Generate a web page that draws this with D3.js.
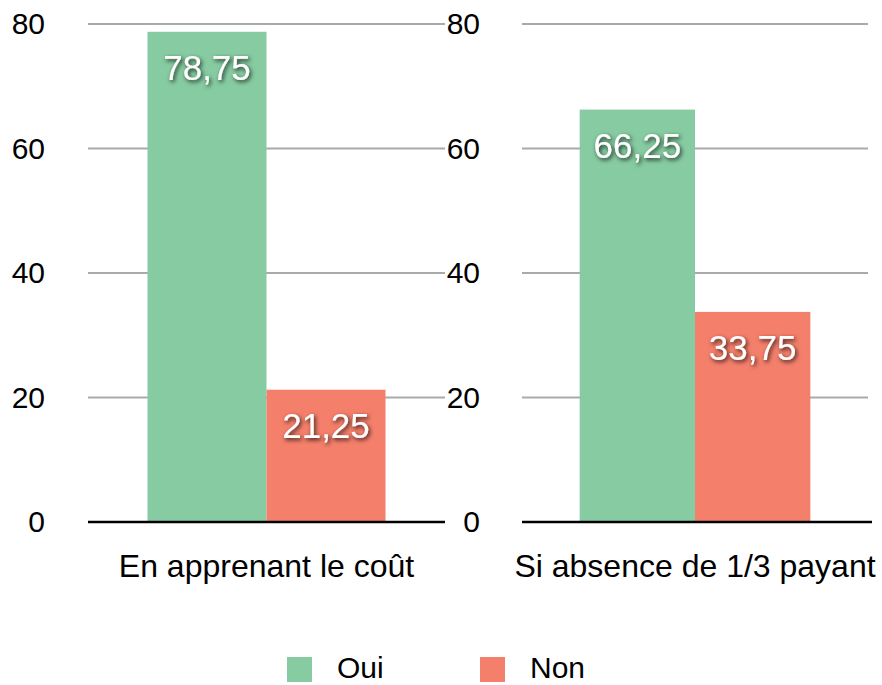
<!DOCTYPE html>
<html>
<head>
<meta charset="utf-8">
<script src="https://cdn.jsdelivr.net/npm/d3@7"></script>
<style>
  body { margin: 0; background: #fff; }
  svg text { font-family: "Liberation Sans", Arial, Helvetica, sans-serif; }
</style>
</head>
<body>
<svg id="chart" width="882" height="685"></svg>
<script>
var categories = ["En apprenant le coût", "Si absence de 1/3 payant"];
var series = ["Oui", "Non"];
var oui = [78.75, 66.25];
var non = [21.25, 33.75];
var yTicks = [0, 20, 40, 60, 80];

var colors = { "Oui": "#86cba1", "Non": "#f47f6b" };

var svg = d3.select("#chart");

// drop shadow for the value labels
var defs = svg.append("defs");
defs.append("filter")
    .attr("id", "shadow")
    .attr("x", "-20%").attr("y", "-30%")
    .attr("width", "140%").attr("height", "160%")
    .append("feDropShadow")
    .attr("dx", 1.5).attr("dy", 2)
    .attr("stdDeviation", 2)
    .attr("flood-color", "#000")
    .attr("flood-opacity", 0.8);

var y = d3.scaleLinear().domain([0, 80]).range([522, 24]);

// each category gets its own little plot
var panels = [
    { x0: 88, x1: 445, labelX: 45 },
    { x0: 522, x1: 868, labelX: 480 }
];

categories.forEach(function (cat, i) {
    var p = panels[i];
    var g = svg.append("g");

    var x = d3.scaleBand()
        .domain(series)
        .range([p.x0, p.x1])
        .paddingInner(0)
        .paddingOuter(0.5);

    // gridlines
    g.selectAll(".grid")
        .data(yTicks.filter(function (d) { return d > 0; }))
        .enter()
        .append("line")
        .attr("x1", p.x0)
        .attr("x2", p.x1)
        .attr("y1", function (d) { return y(d); })
        .attr("y2", function (d) { return y(d); })
        .attr("stroke", "#aaaaaa")
        .attr("stroke-width", 2);

    // y labels
    var axis = d3.axisLeft(y)
        .tickValues(yTicks)
        .tickSize(0)
        .tickPadding(p.x0 - p.labelX);
    var ax = g.append("g")
        .attr("transform", "translate(" + p.x0 + ",0)")
        .call(axis);
    ax.select(".domain").remove();
    ax.selectAll("text")
        .attr("font-size", 30)
        .attr("fill", "#000")
        .style("font-family", "'Liberation Sans', Arial, sans-serif");

    var vals = [{ s: "Oui", v: oui[i] }, { s: "Non", v: non[i] }];

    g.selectAll(".bar")
        .data(vals)
        .enter()
        .append("rect")
        .attr("x", function (d) { return x(d.s); })
        .attr("y", function (d) { return y(d.v); })
        .attr("width", x.bandwidth())
        .attr("height", function (d) { return y(0) - y(d.v); })
        .attr("fill", function (d) { return colors[d.s]; });

    g.selectAll(".val")
        .data(vals)
        .enter()
        .append("text")
        .attr("x", function (d) { return x(d.s) + x.bandwidth() / 2; })
        .attr("y", function (d) { return y(d.v) + 48; })
        .attr("text-anchor", "middle")
        .attr("font-size", 35)
        .attr("fill", "#fff")
        .attr("filter", "url(#shadow)")
        .text(function (d) { return String(d.v).replace(".", ","); });

    // baseline
    g.append("line")
        .attr("x1", p.x0)
        .attr("x2", i == 0 ? p.x1 : p.x1 + 4)
        .attr("y1", y(0))
        .attr("y2", y(0))
        .attr("stroke", "#000")
        .attr("stroke-width", 2.5);

    g.append("text")
        .attr("x", x("Non"))
        .attr("y", 577)
        .attr("text-anchor", "middle")
        .attr("font-size", 32)
        .attr("fill", "#000")
        .text(cat);
});

// legend
var legend = svg.append("g");
var legX = [287, 480];
series.forEach(function (s, i) {
    legend.append("rect")
        .attr("x", legX[i])
        .attr("y", 657)
        .attr("width", 25)
        .attr("height", 25)
        .attr("fill", colors[s]);
    legend.append("text")
        .attr("x", legX[i] + 50)
        .attr("y", 678)
        .attr("font-size", 30)
        .attr("fill", "#000")
        .text(s);
});
</script>
</body>
</html>
